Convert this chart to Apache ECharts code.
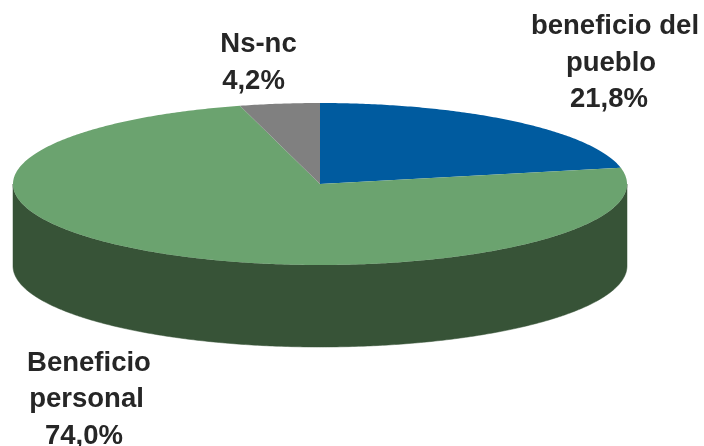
<!DOCTYPE html>
<html><head><meta charset="utf-8">
<style>html,body{margin:0;padding:0;background:#fff}#c{width:704px;height:446px}</style>
<script src="https://cdn.jsdelivr.net/npm/echarts@6/dist/echarts.min.js"></script>
</head><body><div id="c"></div>
<script>
const categories = ['beneficio del\npueblo', 'Beneficio\npersonal', 'Ns-nc'];
const values = [21.8, 74.0, 4.2];
const valueLabels = ['21,8%', '74,0%', '4,2%'];
const colors = ['#005b9f', '#6ba36f', '#808080'];
const sideColors = ['#003a66', '#375337', '#525252'];
const lineX = [[615, 611, 609], [89, 86.5, 84], [258.5, 253.5]];
const lineY = [[26.5, 63, 99.5], [363, 399.5, 436], [44, 81]];

const CX = 320, CY = 184, RX = 307, RY = 81, DEPTH = 82;
const total = values.reduce((a, b) => a + b, 0);
const starts = [];
values.reduce((acc, v, i) => { starts[i] = acc; return acc + v; }, 0);

const pt = (a, dy) => [CX + RX * Math.sin(a), CY + (dy || 0) - RY * Math.cos(a)];
function arc(a0, a1, dy) {
  const n = Math.max(2, Math.ceil(Math.abs(a1 - a0) / 0.01));
  const out = [];
  for (let i = 0; i <= n; i++) out.push(pt(a0 + (a1 - a0) * i / n, dy));
  return out;
}

function renderItem(params, api) {
  const i = params.dataIndex;
  const a0 = starts[i] / total * 2 * Math.PI;
  const a1 = (starts[i] + api.value(0)) / total * 2 * Math.PI;
  const children = [];
  // visible front wall: the part of the slice between 3 and 9 o'clock
  const w0 = Math.max(a0, Math.PI / 2), w1 = Math.min(a1, 3 * Math.PI / 2);
  if (w1 > w0) {
    children.push({
      type: 'polygon',
      shape: { points: arc(w0, w1, 0).concat(arc(w1, w0, DEPTH)) },
      style: { fill: sideColors[i], stroke: sideColors[i], lineWidth: 0.5 }
    });
  }
  children.push({
    type: 'polygon',
    shape: { points: [[CX, CY]].concat(arc(a0, a1, 0)) },
    style: { fill: colors[i] }
  });
  categories[i].split('\n').concat(valueLabels[i]).forEach((line, k) => {
    children.push({
      type: 'text',
      z2: 10,
      style: {
        x: lineX[i][k], y: lineY[i][k],
        text: line,
        align: 'center', verticalAlign: 'middle',
        font: 'bold 27.5px "Liberation Sans", Arial, sans-serif',
        fill: '#262626'
      }
    });
  });
  return { type: 'group', children };
}

const chart = echarts.init(document.getElementById('c'), null, { renderer: 'canvas' });
chart.setOption({
  animation: false,
  backgroundColor: '#ffffff',
  series: [{
    type: 'custom',
    coordinateSystem: 'none',
    renderItem,
    data: values.map((v, i) => ({ name: categories[i], value: [v] }))
  }]
});
</script></body></html>
